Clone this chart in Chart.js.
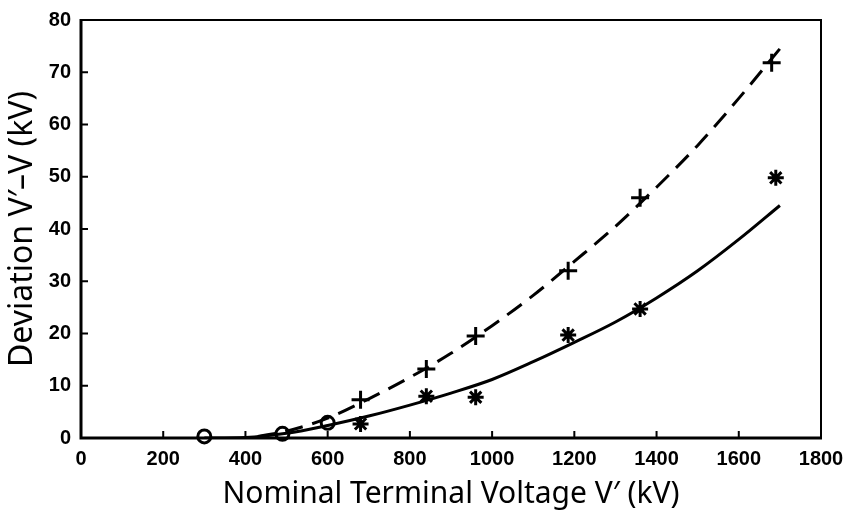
<!DOCTYPE html>
<html>
<head>
<meta charset="utf-8">
<script src="https://cdn.jsdelivr.net/npm/chart.js@4/dist/chart.umd.min.js"></script>
<style>
  html, body { margin: 0; padding: 0; background: #fff; }
  #wrap { width: 847px; height: 516px; }
</style>
</head>
<body>
<div id="wrap"><canvas id="c" width="847" height="516"></canvas></div>
<script>
// ---- data ----
const xTickValues = [0, 200, 400, 600, 800, 1000, 1200, 1400, 1600, 1800];
const xTickLabels = ["0", "200", "400", "600", "800", "1000", "1200", "1400", "1600", "1800"];
const yTickValues = [0, 10, 20, 30, 40, 50, 60, 70, 80];
const yTickLabels = ["0", "10", "20", "30", "40", "50", "60", "70", "80"];

// open circle points (low-voltage measurements)
const circleX = [300, 490, 600];
const circleY = [0.3, 0.8, 2.9];

// "+" points (dashed-curve series)
const plusX = [680, 840, 960, 1185, 1360, 1680];
const plusY = [7.3, 13.2, 19.5, 32.0, 46.0, 71.8];

// asterisk points (solid-curve series)
const starX = [680, 840, 960, 1185, 1360, 1690];
const starY = [2.7, 8.0, 7.8, 19.7, 24.7, 49.8];

// dashed fitted curve
const dashX = [430, 500, 600, 700, 800, 900, 1000, 1100, 1200, 1300, 1400, 1500, 1600, 1700];
const dashY = [0.3, 1.3, 3.8, 7.5, 11.6, 16.2, 21.5, 27.3, 33.8, 40.5, 48.0, 56.0, 65.0, 74.5];

// solid fitted curve
const solidX = [300, 400, 500, 600, 700, 800, 900, 1000, 1100, 1200, 1300, 1400, 1500, 1600, 1700];
const solidY = [0.0, 0.1, 0.9, 2.4, 4.2, 6.3, 8.6, 11.2, 14.6, 18.3, 22.2, 26.8, 32.0, 38.0, 44.5];

const xTitle = "Nominal Terminal Voltage V\u2032 (kV)";
const yTitle = "Deviation V\u2032\u2013V (kV)";

const pts = (xs, ys) => xs.map((x, i) => ({ x: x, y: ys[i] }));

const framePlugin = {
  id: 'frame',
  afterDatasetsDraw(chart) {
    const { ctx, chartArea: a, scales: { x, y } } = chart;
    ctx.save();
    ctx.strokeStyle = '#000';
    ctx.lineCap = 'butt';
    // top & right border
    ctx.lineWidth = 2;
    ctx.beginPath();
    ctx.moveTo(a.left, a.top); ctx.lineTo(a.right, a.top); ctx.lineTo(a.right, a.bottom);
    ctx.stroke();
    // left & bottom axes
    ctx.lineWidth = 3;
    ctx.beginPath();
    ctx.moveTo(a.left, a.top - 1); ctx.lineTo(a.left, a.bottom); ctx.lineTo(a.right + 1, a.bottom);
    ctx.stroke();
    // inward ticks
    ctx.lineWidth = 2;
    ctx.beginPath();
    xTickValues.forEach(v => {
      const px = x.getPixelForValue(v);
      ctx.moveTo(px, a.bottom); ctx.lineTo(px, a.bottom - 7);
    });
    yTickValues.forEach(v => {
      const py = y.getPixelForValue(v);
      ctx.moveTo(a.left, py); ctx.lineTo(a.left + 7, py);
    });
    ctx.stroke();
    ctx.restore();
  }
};

const tickFont = { family: '"Liberation Sans Narrow", "Liberation Sans", sans-serif', size: 20, weight: 'bold' };
const xTitleFont = { family: '"Noto Sans", "DejaVu Sans", sans-serif', size: 30 };
const yTitleFont = { family: '"Noto Sans", "DejaVu Sans", sans-serif', size: 32 };

new Chart(document.getElementById('c'), {
  type: 'scatter',
  data: {
    datasets: [
      {
        label: 'dashed fit', data: pts(dashX, dashY), showLine: true,
        borderColor: '#000', borderWidth: 3, borderDash: [18, 10],
        pointRadius: 0, cubicInterpolationMode: 'monotone', fill: false
      },
      {
        label: 'solid fit', data: pts(solidX, solidY), showLine: true,
        borderColor: '#000', borderWidth: 3,
        pointRadius: 0, cubicInterpolationMode: 'monotone', fill: false
      },
      {
        label: 'circles', data: pts(circleX, circleY), showLine: false,
        pointStyle: 'circle', pointRadius: 6.5, pointBorderWidth: 3,
        pointBackgroundColor: '#fff', pointBorderColor: '#000', clip: false
      },
      {
        label: 'plus', data: pts(plusX, plusY), showLine: false,
        pointStyle: 'cross', pointRadius: 9, pointBorderWidth: 3,
        pointBorderColor: '#000', clip: false
      },
      {
        label: 'star', data: pts(starX, starY), showLine: false,
        pointStyle: 'star', pointRadius: 8, pointBorderWidth: 3,
        pointBorderColor: '#000', clip: false
      }
    ]
  },
  options: {
    responsive: false,
    animation: false,
    layout: { padding: { top: 20, right: 26, left: 0, bottom: 0 } },
    plugins: { legend: { display: false }, tooltip: { enabled: false } },
    scales: {
      x: {
        type: 'linear', min: 0, max: 1800,
        afterBuildTicks: s => { s.ticks = xTickValues.map(v => ({ value: v })); },
        afterFit: s => { s.height = 78; s.paddingRight = 0; s.paddingLeft = 0; },
        grid: { display: false, drawTicks: false },
        border: { display: false },
        ticks: {
          color: '#000', font: tickFont, padding: 9, maxRotation: 0, autoSkip: false,
          callback: (v) => xTickLabels[xTickValues.indexOf(v)]
        },
        title: { display: true, text: xTitle, color: '#000', font: xTitleFont, padding: { top: 0, bottom: 4 } }
      },
      y: {
        type: 'linear', min: 0, max: 80,
        afterBuildTicks: s => { s.ticks = yTickValues.map(v => ({ value: v })); },
        afterFit: s => { s.width = 81; s.paddingTop = 0; s.paddingBottom = 0; },
        grid: { display: false, drawTicks: false },
        border: { display: false },
        ticks: {
          color: '#000', font: tickFont, padding: 10, autoSkip: false,
          callback: (v) => yTickLabels[yTickValues.indexOf(v)]
        },
        title: { display: true, text: yTitle, color: '#000', font: yTitleFont, padding: { top: 4, bottom: 0 } }
      }
    }
  },
  plugins: [framePlugin]
});
</script>
</body>
</html>
